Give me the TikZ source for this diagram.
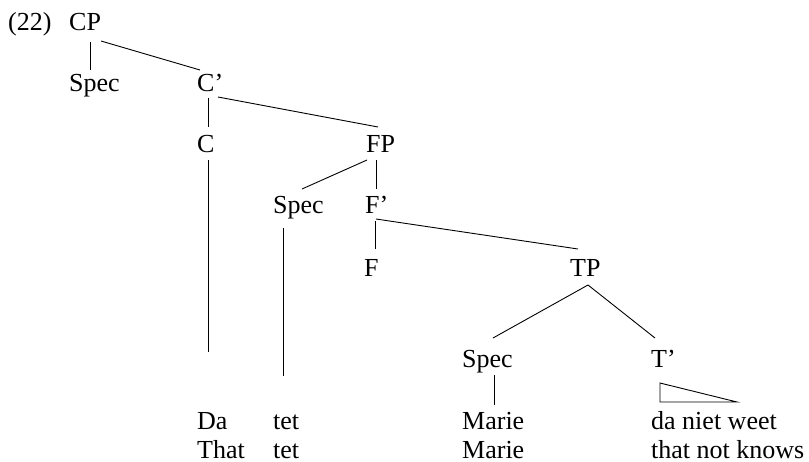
\documentclass[tikz,border=0pt]{standalone}
\usepackage{fontspec}
\setmainfont{Liberation Serif}
\begin{document}
\begin{tikzpicture}[x=1pt,y=-1pt,
  lbl/.style={anchor=base west,inner sep=0pt,font=\fontsize{26}{30}\selectfont},
  edge/.style={line width=0.9pt,black}]
\useasboundingbox (0,0) rectangle (809,461);
% labels
\node[lbl] (ex) at (8,30) {(22)};
\node[lbl] (cp) at (69,30) {CP};
\node[lbl] (spec1) at (69,91) {Spec};
\node[lbl] (cbar) at (197,91) {C'};
\node[lbl] (c) at (197,152) {C};
\node[lbl] (fp) at (366,152) {FP};
\node[lbl] (spec2) at (273,213) {Spec};
\node[lbl] (fbar) at (365,213) {F'};
\node[lbl] (f) at (364,276) {F};
\node[lbl] (tp) at (570,276) {TP};
\node[lbl] (spec3) at (462,367) {Spec};
\node[lbl] (tbar) at (651,367) {T'};
\node[lbl] (da) at (197,429) {Da};
\node[lbl] (that) at (197,458.5) {That};
\node[lbl] (tet1) at (273,429) {tet};
\node[lbl] (tet2) at (273,458.5) {tet};
\node[lbl] (marie1) at (462,429) {Marie};
\node[lbl] (marie2) at (462,458.5) {Marie};
\node[lbl] (dnw) at (651,429) {da niet weet};
\node[lbl] (tnk) at (651,458.5) {that not knows};
% branches
\draw[edge] ([shift={(21,12)}]cp.base west) -- ([shift={(21,-21)}]spec1.base west);
\draw[edge] ([shift={(32,11)}]cp.base west) -- ([shift={(3,-21)}]cbar.base west);
\draw[edge] ([shift={(11,7)}]cbar.base west) -- ([shift={(11,-25)}]c.base west);
\draw[edge] ([shift={(21,6)}]cbar.base west) -- ([shift={(12,-25)}]fp.base west);
\draw[edge] ([shift={(11,8)}]c.base west) -- ([shift={(11,-77)}]da.base west);
\draw[edge] ([shift={(1,8)}]fp.base west) -- ([shift={(29,-24)}]spec2.base west);
\draw[edge] ([shift={(10,8)}]fp.base west) -- ([shift={(11,-24)}]fbar.base west);
\draw[edge] ([shift={(10,15)}]spec2.base west) -- ([shift={(10,-53)}]tet1.base west);
\draw[edge] ([shift={(10,8)}]fbar.base west) -- ([shift={(11,-27)}]f.base west);
\draw[edge] ([shift={(11,6)}]fbar.base west) -- ([shift={(8,-27)}]tp.base west);
\draw[edge] ([shift={(18,9)}]tp.base west) -- ([shift={(31,-29)}]spec3.base west);
\draw[edge] ([shift={(18,9)}]tp.base west) -- ([shift={(4,-29)}]tbar.base west);
\draw[edge] ([shift={(32,8)}]spec3.base west) -- ([shift={(32,-24)}]marie1.base west);
\draw[edge] ([shift={(9,16)}]tbar.base west) -- ([shift={(9,35)}]tbar.base west) -- ([shift={(86,35)}]tbar.base west) -- cycle;
\end{tikzpicture}
\end{document}
